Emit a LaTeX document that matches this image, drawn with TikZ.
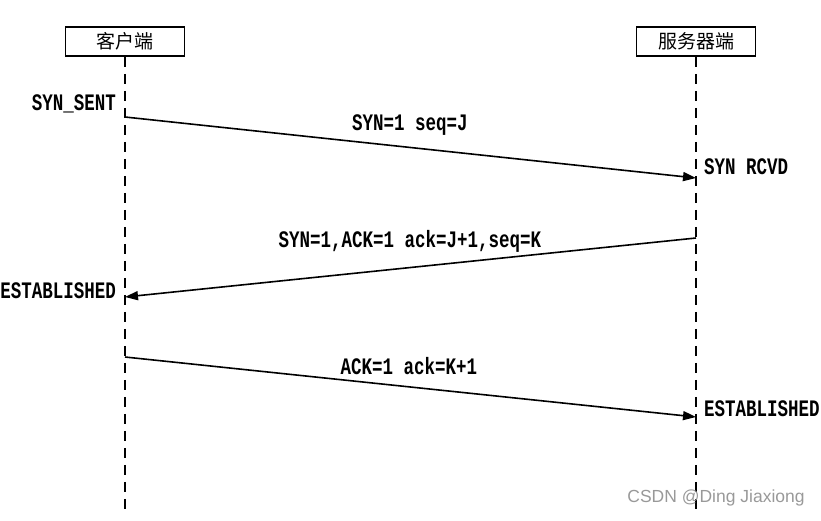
\documentclass[tikz,border=0pt]{standalone}
\usepackage{fontspec}
\usepackage{graphicx}
\setmainfont{Liberation Serif}
\newfontfamily\cjk{Noto Sans CJK SC}
\newfontfamily\wm{Liberation Sans}
\newfontfamily\lmono{Liberation Mono}
\newcommand{\tall}[1]{\scalebox{1}[1.35]{#1}}
\usetikzlibrary{arrows.meta}
\begin{document}
\begin{tikzpicture}[x=1pt,y=-1pt,
  actor/.style={draw,line width=1.6pt,minimum width=119pt,minimum height=29pt,inner sep=0pt,font=\cjk\fontsize{19}{19}\selectfont},
  life/.style={line width=1.8pt,dash pattern=on 10pt off 7pt},
  msg/.style={line width=1.6pt,-{Triangle[length=13pt,width=9pt]}},
  lbl/.style={inner sep=0pt,font=\lmono\bfseries\fontsize{17.5}{17.5}\selectfont},
  state/.style={inner sep=0pt,font=\lmono\bfseries\fontsize{17.5}{17.5}\selectfont}]
\useasboundingbox (0,0) rectangle (821,520);
\node[actor] (c) at (125,41.5) {客户端};
\node[actor] (s) at (696,41.5) {服务器端};
\coordinate (cend) at (125,510);
\coordinate (send) at (696,510);
\draw[life] (c.south) -- (cend);
\draw[life] (s.south) -- (send);
\coordinate (a1) at (125,117);
\coordinate (b1) at (696,178);
\coordinate (a2) at (696,238);
\coordinate (b2) at (125,297);
\coordinate (a3) at (125,357);
\coordinate (b3) at (696,417);
\draw[msg] (a1) -- (b1);
\draw[msg] (a2) -- (b2);
\draw[msg] (a3) -- (b3);
\node[lbl] (l1) at (410,125) {\tall{SYN=1 seq=J}};
\node[lbl] (l2) at (410,241) {\tall{SYN=1,ACK=1 ack=J+1,seq=K}};
\node[lbl] (l3) at (409,366) {\tall{ACK=1 ack=K+1}};
\node[state,anchor=east] (st1) at (116,104) {\tall{SYN\_SENT}};
\node[state,anchor=west] (st2) at (704,167) {\tall{SYN RCVD}};
\node[state,anchor=east] (st3) at (116,291) {\tall{ESTABLISHED}};
\node[state,anchor=west] (st4) at (704,409) {\tall{ESTABLISHED}};
\node[inner sep=0pt,text=black!40,font=\wm\fontsize{17.5}{17.5}\selectfont] (w) at (716,498) {CSDN @Ding Jiaxiong};
\end{tikzpicture}
\end{document}
